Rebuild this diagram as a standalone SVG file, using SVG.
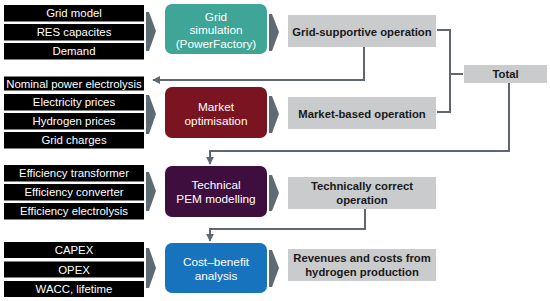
<svg xmlns="http://www.w3.org/2000/svg" width="550" height="301" viewBox="0 0 550 301">
<defs>
<style>
.in rect{fill:#000}
.in text{fill:#fff;font-family:"Liberation Sans",Arial,sans-serif;font-size:11.4px;text-anchor:middle}
.proc text{fill:#fff;font-family:"Liberation Sans",Arial,sans-serif;font-size:11.8px;text-anchor:middle}
.out rect{fill:#c9cbcd}
.out text{fill:#1a1a1a;font-family:"Liberation Sans",Arial,sans-serif;font-size:11.3px;font-weight:bold;text-anchor:middle}
.chev{fill:#5f6b73}
.conn path{fill:none;stroke:#5f6870;stroke-width:2}
</style>
<marker id="ah" viewBox="0 0 10 10" refX="9" refY="5" markerWidth="4" markerHeight="4" orient="auto-start-reverse">
<path d="M0,0 L10,5 L0,10 z" fill="#5f6870"/>
</marker>
</defs>
<rect width="550" height="301" fill="#fff"/>

<!-- inputs -->
<g id="in1" class="in">
<rect x="4" y="5" width="140" height="16.5"/><text x="74" y="17">Grid model</text>
<rect x="4" y="24" width="140" height="16.5"/><text x="74" y="36">RES capacites</text>
<rect x="4" y="43" width="140" height="16.5"/><text x="74" y="55">Demand</text>
</g>
<g id="in2" class="in">
<rect x="4" y="76.5" width="140" height="14"/><text x="74" y="87.5">Nominal power electrolysis</text>
<rect x="4" y="94" width="140" height="16.5"/><text x="74" y="106">Electricity prices</text>
<rect x="4" y="113" width="140" height="16.5"/><text x="74" y="125">Hydrogen prices</text>
<rect x="4" y="132" width="140" height="16.5"/><text x="74" y="144">Grid charges</text>
</g>
<g id="in3" class="in">
<rect x="4" y="165" width="140" height="16.5"/><text x="74" y="177">Efficiency transformer</text>
<rect x="4" y="184" width="140" height="16.5"/><text x="74" y="196">Efficiency converter</text>
<rect x="4" y="203" width="140" height="16.5"/><text x="74" y="215">Efficiency electrolysis</text>
</g>
<g id="in4" class="in">
<rect x="4" y="242" width="140" height="16"/><text x="74" y="254">CAPEX</text>
<rect x="4" y="261.5" width="140" height="16"/><text x="74" y="273.5">OPEX</text>
<rect x="4" y="281" width="140" height="16"/><text x="74" y="293">WACC, lifetime</text>
</g>

<!-- chevrons -->
<g id="chevrons">
<polygon class="chev" points="146,12 149,12 156,31 149,51 146,51"/>
<polygon class="chev" points="269,14 272,14 279,32 272,51 269,51"/>
<polygon class="chev" points="146,95 149,95 156,114 149,134 146,134"/>
<polygon class="chev" points="269,96 272,96 279,114 272,133 269,133"/>
<polygon class="chev" points="146,172 149,172 156,191 149,211 146,211"/>
<polygon class="chev" points="269,175 272,175 279,193 272,211 269,211"/>
<polygon class="chev" points="146,248 149,248 156,268 149,288 146,288"/>
<polygon class="chev" points="269,250 272,250 279,268 272,287 269,287"/>
</g>

<!-- process boxes -->
<g id="grid-sim" class="proc">
<rect x="165" y="4" width="102" height="50" rx="7" fill="#3fa596"/>
<text x="216" y="20.5">Grid</text>
<text x="216" y="34">simulation</text>
<text x="216" y="48">(PowerFactory)</text>
</g>
<g id="market-opt" class="proc">
<rect x="165" y="87" width="102" height="51" rx="7" fill="#7a1420"/>
<text x="216" y="111">Market</text>
<text x="216" y="125">optimisation</text>
</g>
<g id="tech-pem" class="proc">
<rect x="165" y="166" width="102" height="51" rx="7" fill="#3e0f3e"/>
<text x="216" y="189">Technical</text>
<text x="216" y="203">PEM modelling</text>
</g>
<g id="cost-benefit" class="proc">
<rect x="165" y="243" width="102" height="50" rx="7" fill="#1873bf"/>
<text x="216" y="266">Cost–benefit</text>
<text x="216" y="280">analysis</text>
</g>

<!-- outputs -->
<g id="out-grid" class="out">
<rect x="288" y="15" width="148" height="32"/>
<text x="362" y="36">Grid-supportive operation</text>
</g>
<g id="out-market" class="out">
<rect x="288" y="97" width="148" height="32"/>
<text x="362" y="118">Market-based operation</text>
</g>
<g id="out-total" class="out">
<rect x="464" y="65" width="83" height="18"/>
<text x="505.5" y="78">Total</text>
</g>
<g id="out-tech" class="out">
<rect x="288" y="177" width="148" height="32"/>
<text x="362" y="190">Technically correct</text>
<text x="362" y="204">operation</text>
</g>
<g id="out-rev" class="out">
<rect x="288" y="249" width="148" height="32"/>
<text x="362" y="262">Revenues and costs from</text>
<text x="362" y="276">hydrogen production</text>
</g>

<!-- connectors -->
<g id="connectors" class="conn">
<path d="M437,30 H450 V112 H437"/>
<path d="M450,74 H463"/>
<path d="M364,47 V80 H153" marker-end="url(#ah)"/>
<path d="M509,83 V151 H210 V164" marker-end="url(#ah)"/>
<path d="M365,209 V229 H210 V241" marker-end="url(#ah)"/>
</g>
</svg>
